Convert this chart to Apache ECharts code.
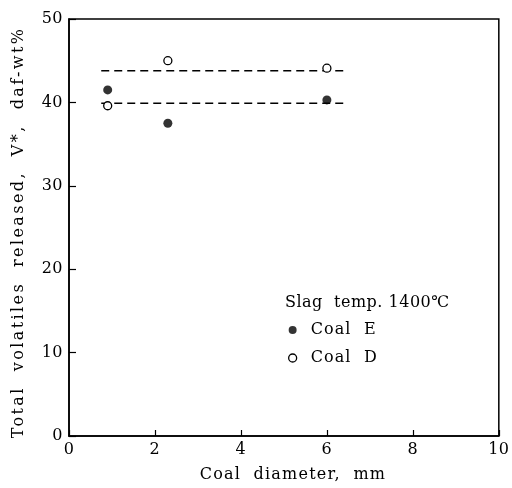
<!DOCTYPE html>
<html>
<head>
<meta charset="utf-8">
<script src="https://cdn.jsdelivr.net/npm/echarts@6/dist/echarts.min.js"></script>
<style>
html,body{margin:0;padding:0;background:#fff}
#c{width:512px;height:488px}
</style>
</head>
<body>
<div id="c"></div>
<script>
const xTicks = [0, 2, 4, 6, 8, 10];
const yTicks = [0, 10, 20, 30, 40, 50];
const coalE = [[0.9, 41.5], [2.3, 37.5], [6.0, 40.3]];
const coalD = [[0.9, 39.6], [2.3, 45.0], [6.0, 44.1]];
const dashUpper = [[0.75, 43.8], [6.4, 43.8]];
const dashLower = [[0.75, 39.9], [6.4, 39.9]];
const legendTitle = 'Slag  temp. 1400℃';
const xName = 'Coal  diameter,  mm';
const yName = 'Total  volatiles  released,  V*,  daf-wt%';

// typeset letter spacing of the labels (styling only)
const SPACING = {};
SPACING[yName] = '2.4px';
SPACING[xName] = '1.2px';
SPACING[legendTitle] = '0.5px';
SPACING['Coal  E'] = '1.1px';
SPACING['Coal  D'] = '1.1px';
(function () {
  const proto = CanvasRenderingContext2D.prototype;
  const orig = proto.fillText;
  proto.fillText = function (text) {
    const sp = SPACING[text];
    if (sp && 'letterSpacing' in this) {
      const prev = this.letterSpacing;
      this.letterSpacing = sp;
      const r = orig.apply(this, arguments);
      this.letterSpacing = prev;
      return r;
    }
    return orig.apply(this, arguments);
  };
})();

const FONT = 'DejaVu Serif';
const chart = echarts.init(document.getElementById('c'));
chart.setOption({
  backgroundColor: '#fff',
  animation: false,
  textStyle: { fontFamily: FONT, color: '#000' },
  grid: { left: 69, right: 8, top: 19, bottom: 48, show: true, borderColor: '#000', borderWidth: 1.5, backgroundColor: 'transparent' },
  xAxis: {
    type: 'value', min: xTicks[0], max: xTicks[xTicks.length - 1], interval: 2,
    name: xName, nameLocation: 'middle', nameGap: 31,
    nameTextStyle: { fontFamily: FONT, fontSize: 16, color: '#000', padding: [0, 0, 0, 18] },
    axisLine: { lineStyle: { color: '#000', width: 1.5 } },
    axisTick: { inside: true, length: 6, lineStyle: { color: '#000', width: 1.2 } },
    axisLabel: { fontFamily: FONT, fontSize: 16, color: '#000', margin: 6 },
    splitLine: { show: false }
  },
  yAxis: {
    type: 'value', min: yTicks[0], max: yTicks[yTicks.length - 1], interval: 10,
    name: yName, nameLocation: 'middle', nameGap: 42, nameRotate: 90,
    nameTextStyle: { fontFamily: FONT, fontSize: 16, color: '#000', padding: [0, 10, 0, 0] },
    axisLine: { lineStyle: { color: '#000', width: 1.5 } },
    axisTick: { inside: true, length: 7, lineStyle: { color: '#000', width: 1.2 } },
    axisLabel: { fontFamily: FONT, fontSize: 16, color: '#000', margin: 6 },
    splitLine: { show: false }
  },
  legend: {
    data: [
      { name: 'Coal  E', icon: 'circle', itemStyle: { color: '#000', borderWidth: 0 } },
      { name: 'Coal  D', icon: 'circle', itemStyle: { color: '#fff', borderColor: '#000', borderWidth: 1.3 } }
    ],
    orient: 'vertical', left: 283, top: 317, itemWidth: 8, itemHeight: 8, itemGap: 12,
    textStyle: { fontFamily: FONT, fontSize: 16, color: '#000', padding: [0, 0, 0, 9] }
  },
  graphic: [{
    type: 'text', left: 285, top: 295,
    style: { text: legendTitle, font: '16px "DejaVu Serif"', fill: '#000' }
  }],
  series: [
    { type: 'line', data: dashUpper, symbol: 'none', lineStyle: { color: '#000', width: 1.6, type: [8, 5] }, z: 1, silent: true },
    { type: 'line', data: dashLower, symbol: 'none', lineStyle: { color: '#000', width: 1.6, type: [8, 5] }, z: 1, silent: true },
    { name: 'Coal  E', type: 'scatter', data: coalE, symbol: 'circle', symbolSize: 9, itemStyle: { color: '#000' }, z: 3 },
    { name: 'Coal  D', type: 'scatter', data: coalD, symbol: 'circle', symbolSize: 8, itemStyle: { color: '#fff', borderColor: '#000', borderWidth: 1.3, opacity: 1 }, z: 3 }
  ]
});
</script>
</body>
</html>
